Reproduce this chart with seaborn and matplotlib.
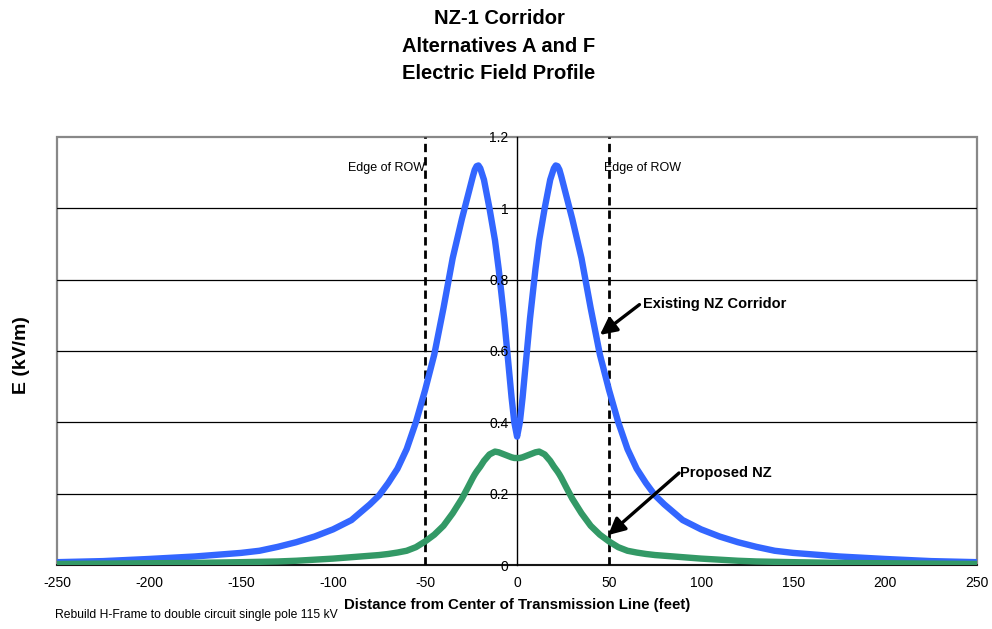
import numpy as np
import pandas as pd
import matplotlib
matplotlib.use("Agg")
import matplotlib.pyplot as plt
import seaborn as sns
from matplotlib.patches import Rectangle

# distance from centre line (feet)
distance = [-250, -225, -200, -175, -150, -140, -130, -120, -110, -100, -90, -80, -75, -70,
            -65, -60, -55, -50, -45, -40, -35, -30, -27, -24, -23, -22, -21, -20, -18, -15,
            -12, -10, -7, -5, -3, -1.5, 0,
            1.5, 3, 5, 7, 10, 12, 15, 18, 20, 21, 22, 23, 24, 27, 30, 35, 40, 45, 50, 55,
            60, 65, 70, 75, 80, 90, 100, 110, 120, 130, 140, 150, 175, 200, 225, 250]

# existing corridor field (kV/m)
existing = [0.008, 0.011, 0.017, 0.024, 0.034, 0.040, 0.051, 0.064, 0.080, 0.100, 0.126,
            0.170, 0.195, 0.230, 0.270, 0.325, 0.400, 0.490, 0.590, 0.720, 0.860, 0.970,
            1.030, 1.090, 1.108, 1.118, 1.120, 1.112, 1.080, 1.000, 0.910, 0.830, 0.690,
            0.580, 0.470, 0.400, 0.360,
            0.400, 0.470, 0.580, 0.690, 0.830, 0.910, 1.000, 1.080, 1.112, 1.120, 1.118,
            1.108, 1.090, 1.030, 0.970, 0.860, 0.720, 0.590, 0.490, 0.400, 0.325, 0.270,
            0.230, 0.195, 0.170, 0.126, 0.100, 0.080, 0.064, 0.051, 0.040, 0.034, 0.024,
            0.017, 0.011, 0.008]

# proposed NZ field (kV/m)
proposed = [0.003, 0.004, 0.005, 0.006, 0.008, 0.009, 0.010, 0.012, 0.015, 0.018, 0.022,
            0.026, 0.028, 0.031, 0.035, 0.040, 0.050, 0.066, 0.085, 0.110, 0.145, 0.186,
            0.215, 0.245, 0.254, 0.262, 0.269, 0.276, 0.292, 0.310, 0.318, 0.316, 0.310,
            0.306, 0.302, 0.300, 0.300,
            0.300, 0.302, 0.306, 0.310, 0.316, 0.318, 0.310, 0.292, 0.276, 0.269, 0.262,
            0.254, 0.245, 0.215, 0.186, 0.145, 0.110, 0.085, 0.066, 0.050, 0.040, 0.035,
            0.031, 0.028, 0.026, 0.022, 0.018, 0.015, 0.012, 0.010, 0.009, 0.008, 0.006,
            0.005, 0.004, 0.003]

x_ticks = [-250, -200, -150, -100, -50, 0, 50, 100, 150, 200, 250]
y_ticks = [0, 0.2, 0.4, 0.6, 0.8, 1.0, 1.2]
y_tick_labels = ["0", "0.2", "0.4", "0.6", "0.8", "1", "1.2"]

df = pd.DataFrame({"Distance": distance, "Existing": existing, "Proposed": proposed})

sns.set_style("white")
plt.rcParams['font.family'] = ['Liberation Sans', 'DejaVu Sans']
plt.rcParams['text.color'] = 'black'
plt.rcParams['xtick.color'] = 'black'
plt.rcParams['ytick.color'] = 'black'

fig = plt.figure(figsize=(9.92, 6.29), dpi=100)
ax = fig.add_axes([0.0575, 0.1017, 0.9275, 0.6806])

# edge of right-of-way lines
for xv in [-50, 50]:
    ax.axvline(xv, color="black", linestyle=(0, (3, 1.8)), linewidth=2.0, zorder=3)

sns.lineplot(data=df, x="Distance", y="Existing", color="#3366FF", linewidth=4.6,
             ax=ax, zorder=4, solid_capstyle="round", solid_joinstyle="round")
sns.lineplot(data=df, x="Distance", y="Proposed", color="#339966", linewidth=4.6,
             ax=ax, zorder=4, solid_capstyle="round", solid_joinstyle="round")

ax.set_xlim(-250, 250)
ax.set_ylim(0, 1.2)
ax.set_xticks(x_ticks)
ax.set_xticklabels([str(v) for v in x_ticks], fontsize=10, color="black")
ax.set_yticks(y_ticks)
ax.set_yticklabels(y_tick_labels, fontsize=10, color="black")
ax.yaxis.set_zorder(5)

# gridlines
for yv in y_ticks[1:-1]:
    ax.axhline(yv, color="black", linewidth=0.9, zorder=1)

# value axis crosses at x=0 like the original
for s in ["top", "right"]:
    ax.spines[s].set_visible(False)
ax.spines["left"].set_position(("data", 0))
ax.spines["left"].set_color("black")
ax.spines["left"].set_linewidth(1.0)
ax.spines["left"].set_zorder(2)
ax.spines["bottom"].set_color("black")
ax.spines["bottom"].set_linewidth(1.2)
ax.tick_params(axis="both", direction="out", length=5, width=1, color="black", pad=3)
ax.tick_params(axis="y", pad=1)

# plot area border
ax.add_patch(Rectangle((0, 0), 1, 1, transform=ax.transAxes, fill=False,
                       edgecolor="#888888", linewidth=1.6, zorder=0, clip_on=False))

ax.set_xlabel("")
ax.set_ylabel("")

ax.text(-50, 1.113, "Edge of ROW", ha="right", va="center", fontsize=9)
ax.text(47, 1.113, "Edge of ROW", ha="left", va="center", fontsize=9)

arrow = dict(arrowstyle="-|>,head_length=1.0,head_width=0.5", color="black",
             linewidth=2.4, shrinkA=0, shrinkB=0)
ax.annotate("", xy=(45, 0.645), xytext=(66.5, 0.73), arrowprops=arrow, zorder=6)
ax.annotate("", xy=(49.5, 0.084), xytext=(88, 0.258), arrowprops=arrow, zorder=6)
ax.text(68.5, 0.733, "Existing NZ Corridor", fontsize=10.5, fontweight="bold",
        ha="left", va="center")
ax.text(88.5, 0.258, "Proposed NZ", fontsize=10.5, fontweight="bold",
        ha="left", va="center")

title_lines = ["NZ-1 Corridor", "Alternatives A and F", "Electric Field Profile"]
for i, line in enumerate(title_lines):
    fig.text(0.503, 1 - (18.5 + 27.5 * i) / 629, line, ha="center", va="center",
             fontsize=14.5, fontweight="bold")
fig.text(0.022, 0.436, "E (kV/m)", rotation=90, ha="center", va="center",
         fontsize=14, fontweight="bold")
fig.text(0.521, 0.038, "Distance from Center of Transmission Line (feet)",
         ha="center", va="center", fontsize=10.8, fontweight="bold")
fig.text(0.055, 0.022, "Rebuild H-Frame to double circuit single pole 115 kV",
         ha="left", va="center", fontsize=8.7)

fig.savefig("out.png", dpi=100)
